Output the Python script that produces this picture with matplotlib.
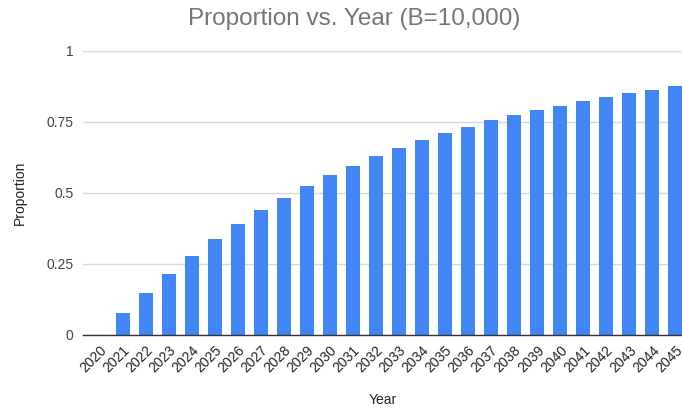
import numpy as np
import matplotlib
matplotlib.use("Agg")
import matplotlib.pyplot as plt

plt.rcParams['font.family'] = ['Liberation Sans', 'DejaVu Sans']

# Proportion per year
years = [str(y) for y in range(2020, 2046)]
proportion = [0.0, 0.076, 0.147, 0.215, 0.278, 0.338, 0.389, 0.440, 0.481,
              0.524, 0.562, 0.596, 0.630, 0.659, 0.686, 0.709, 0.731, 0.756,
              0.773, 0.790, 0.807, 0.823, 0.836, 0.850, 0.862, 0.875]
yticks = [0, 0.25, 0.5, 0.75, 1]
ytick_labels = ['0', '0.25', '0.5', '0.75', '1']

fig = plt.figure(figsize=(6.82, 4.09), dpi=100)
ax = fig.add_axes([83 / 682, 1 - 335 / 409, 1 - 83 / 682, (335 - 50.7) / 409])

x = np.arange(len(years))
ax.bar(x, proportion, width=0.6, color='#4285f4', zorder=2)

ax.set_xlim(-0.72, len(years) - 0.7)
ax.set_ylim(0, 1)
ax.set_yticks(yticks, labels=ytick_labels)
ax.set_xticks(x, labels=years)

for lbl in ax.get_xticklabels():
    lbl.set_rotation(45)
    lbl.set_ha('right')
    lbl.set_rotation_mode('anchor')

ax.tick_params(axis='x', length=0, pad=6, labelsize=10, colors='#222222')
ax.tick_params(axis='y', length=0, pad=7, labelsize=10, colors='#444444')
ax.grid(axis='y', color='#d9d9d9', linewidth=1, zorder=0)
ax.set_axisbelow(True)

for side in ['top', 'right', 'left']:
    ax.spines[side].set_visible(False)
ax.spines['bottom'].set_color('#333333')
ax.spines['bottom'].set_linewidth(1)
ax.spines['bottom'].set_zorder(3)

ax.set_xlabel('Year', fontsize=10, color='#222222', labelpad=13)
ax.set_ylabel('Proportion', fontsize=10, color='#222222', labelpad=14)
fig.suptitle('Proportion vs. Year (B=10,000)', x=(188 + 520) / 2 / 682,
             y=1 - 8 / 409, va='top', fontsize=17.5, color='#757575')

fig.savefig('out.png', dpi=100)
